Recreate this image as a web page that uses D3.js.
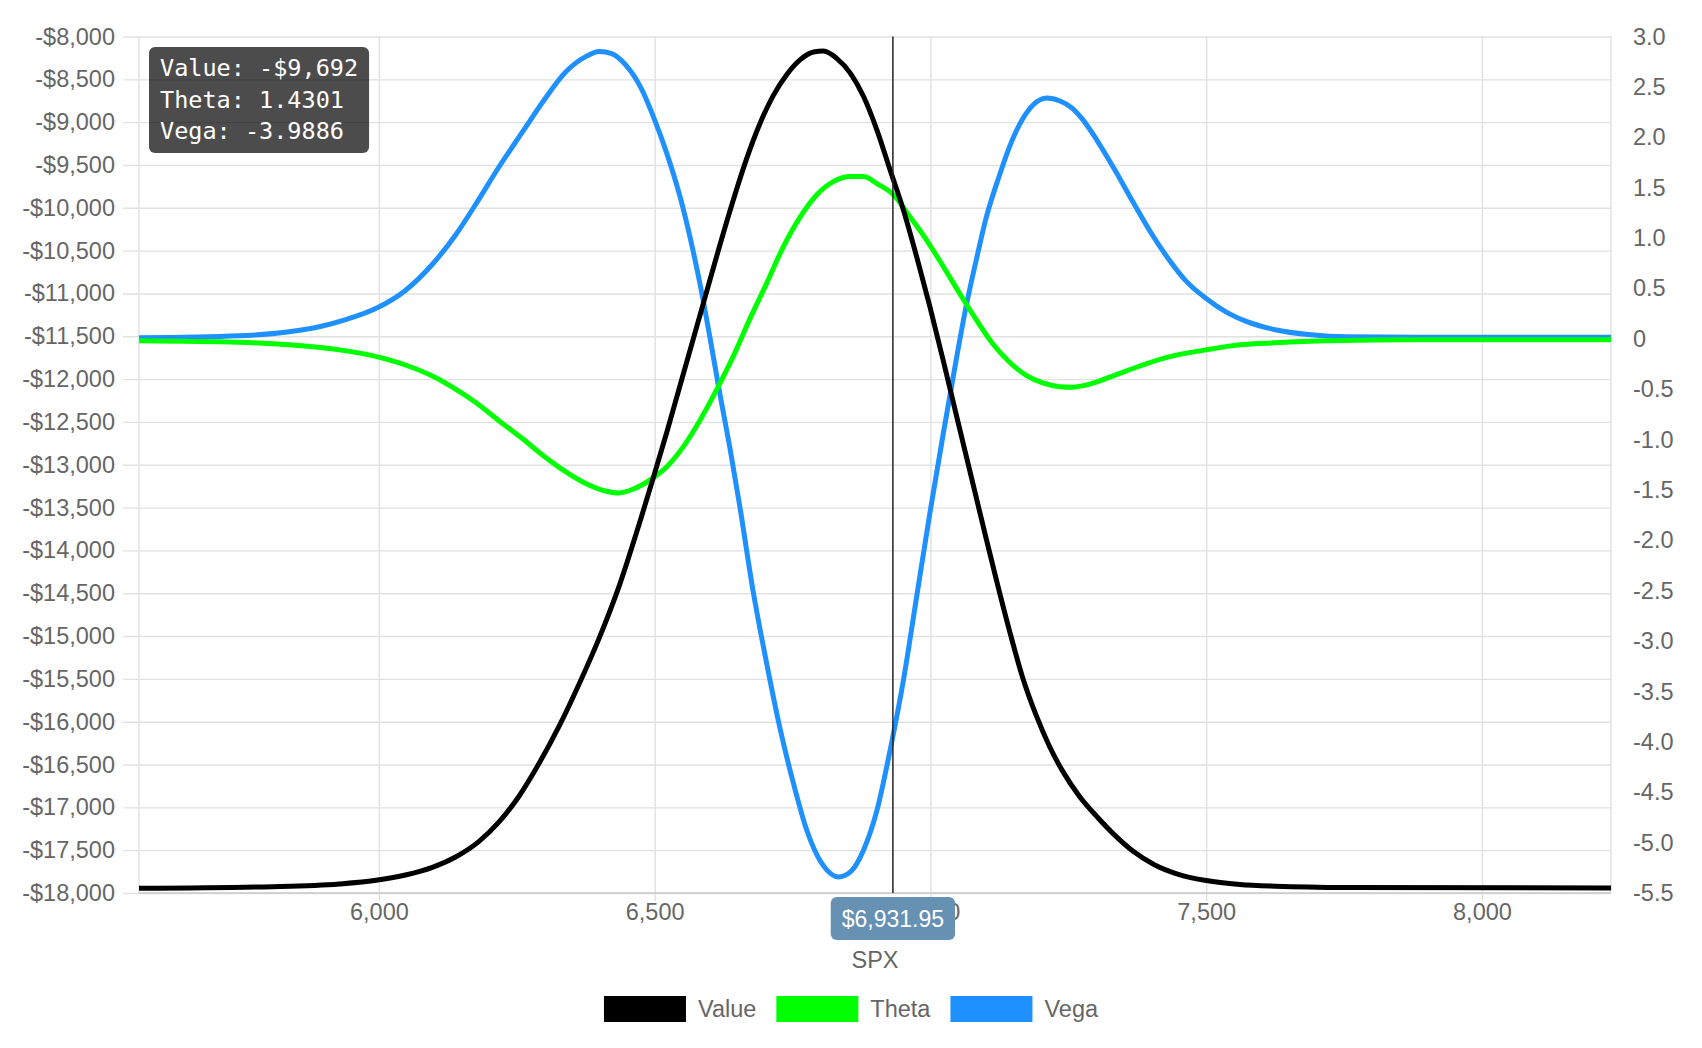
<!DOCTYPE html>
<html>
<head>
<meta charset="utf-8">
<script src="https://cdn.jsdelivr.net/npm/d3@7"></script>
<style>
  body { margin: 0; background: #fff; }
  svg text { font-family: "Liberation Sans", Arial, Helvetica, sans-serif; }
</style>
</head>
<body>
<svg id="chart" width="1702" height="1048"></svg>
<script>
// ---- data ----
var xTicks = [6000, 6500, 7000, 7500, 8000];
var leftTicks = [-18000, -17500, -17000, -16500, -16000, -15500, -15000, -14500, -14000, -13500,
                 -13000, -12500, -12000, -11500, -11000, -10500, -10000, -9500, -9000, -8500, -8000];
var rightTicks = [3.0, 2.5, 2.0, 1.5, 1.0, 0.5, 0, -0.5, -1.0, -1.5, -2.0, -2.5, -3.0, -3.5, -4.0, -4.5, -5.0, -5.5];
var rightTickLabels = ["3.0", "2.5", "2.0", "1.5", "1.0", "0.5", "0", "-0.5", "-1.0", "-1.5", "-2.0",
                       "-2.5", "-3.0", "-3.5", "-4.0", "-4.5", "-5.0", "-5.5"];

var valueSpx = [5565, 5807, 5928, 5998, 6048, 6097, 6139, 6181, 6217, 6254, 6291, 6327, 6363, 6399,
                6437, 6474, 6498, 6522, 6546, 6570, 6594, 6618, 6642, 6666, 6690, 6715, 6740, 6764,
                6788, 6806, 6830, 6855, 6879, 6903, 6927, 6951, 6975, 6999, 7023, 7047, 7071, 7095,
                7119, 7143, 7167, 7192, 7216, 7240, 7270, 7302, 7335, 7367, 7406, 7451, 7500, 7561,
                7625, 7755, 8234];
var valueData = [-17945, -17926, -17895, -17849, -17790, -17700, -17580, -17400, -17175, -16870, -16480,
                 -16050, -15560, -15030, -14390, -13650, -13140, -12620, -12075, -11530, -10985, -10440,
                 -9920, -9440, -9030, -8690, -8440, -8270, -8180, -8170, -8255, -8430, -8703, -9092,
                 -9560, -10026, -10571, -11155, -11777, -12420, -13060, -13700, -14330, -14930, -15480,
                 -15930, -16290, -16580, -16870, -17110, -17330, -17510, -17670, -17785, -17855, -17900,
                 -17920, -17935, -17942];

var thetaSpx = [5565, 5746, 5837, 5928, 5998, 6048, 6097, 6139, 6175, 6217, 6260, 6297, 6339, 6375,
                6411, 6435, 6462, 6492, 6522, 6552, 6582, 6612, 6642, 6672, 6703, 6733, 6764, 6794,
                6824, 6855, 6879, 6903, 6933, 6963, 6993, 7023, 7053, 7083, 7113, 7143, 7173, 7205,
                7235, 7257, 7289, 7335, 7380, 7432, 7500, 7561, 7625, 7722, 7884, 8234];
var thetaData = [-0.02, -0.035, -0.06, -0.11, -0.18, -0.26, -0.37, -0.50, -0.63, -0.81, -0.99, -1.155,
                 -1.32, -1.435, -1.51, -1.53, -1.49, -1.40, -1.27, -1.07, -0.81, -0.51, -0.18, 0.19,
                 0.55, 0.91, 1.21, 1.43, 1.56, 1.61, 1.61, 1.54, 1.43, 1.21, 0.98, 0.72, 0.45, 0.19,
                 -0.05, -0.23, -0.36, -0.44, -0.475, -0.48, -0.45, -0.36, -0.27, -0.18, -0.11, -0.06,
                 -0.04, -0.02, -0.01, -0.01];

var vegaSpx = [5565, 5746, 5837, 5892, 5940, 5998, 6048, 6097, 6139, 6175, 6217, 6260, 6297, 6339,
               6375, 6400, 6422, 6447, 6477, 6498, 6522, 6546, 6564, 6582, 6600, 6618, 6636, 6654,
               6678, 6703, 6727, 6752, 6776, 6800, 6812, 6833, 6855, 6879, 6903, 6927, 6951, 6975,
               6999, 7023, 7047, 7065, 7083, 7101, 7125, 7143, 7161, 7186, 7211, 7235, 7257, 7277,
               7302, 7335, 7367, 7399, 7432, 7464, 7500, 7535, 7574, 7625, 7690, 7755, 7884, 8234];
var vegaData = [0.01, 0.03, 0.07, 0.12, 0.19, 0.31, 0.48, 0.74, 1.03, 1.33, 1.70, 2.05, 2.35, 2.65,
                2.80, 2.85, 2.83, 2.72, 2.47, 2.20, 1.84, 1.41, 1.01, 0.55, 0.02, -0.54, -1.07, -1.65,
                -2.49, -3.22, -3.86, -4.42, -4.88, -5.18, -5.27, -5.34, -5.29, -5.07, -4.68, -4.08,
                -3.39, -2.56, -1.73, -0.95, -0.20, 0.33, 0.78, 1.20, 1.62, 1.90, 2.12, 2.32, 2.39,
                2.36, 2.29, 2.17, 1.97, 1.67, 1.36, 1.06, 0.79, 0.57, 0.40, 0.27, 0.17, 0.09, 0.04,
                0.02, 0.015, 0.015];

var seriesNames = ["Value", "Theta", "Vega"];
var seriesColors = ["#000000", "#00ff00", "#1e90ff"];

var cursorSpx = 6931.95;
var tipLines = ["Value: -$9,692", "Theta: 1.4301", "Vega: -3.9886"];

// ---- layout ----
var svg = d3.select("#chart");
var plotLeft = 139, plotRight = 1611, plotTop = 36.5, plotBottom = 893;
var tickFont = "23.5px";

var x = d3.scaleLinear().domain([5565, 8234]).range([plotLeft, plotRight]);
var yLeft = d3.scaleLinear().domain([-18000, -8000]).range([plotBottom, plotTop]);
var yRight = d3.scaleLinear().domain([-5.5, 3.0]).range([plotBottom, plotTop]);

function money(d) {
  return (d < 0 ? "-" : "") + "$" + d3.format(",")(Math.abs(d));
}

// horizontal grid + left labels
var gLeft = svg.append("g").attr("transform", "translate(123,0)")
  .call(d3.axisLeft(yLeft).tickValues(leftTicks).tickFormat(money)
    .tickSizeInner(-(plotRight - 123)).tickSizeOuter(0).tickPadding(8));
gLeft.select(".domain").remove();
gLeft.selectAll(".tick line").attr("stroke", "#e1e1e1").attr("stroke-width", 1.4);
gLeft.selectAll(".tick text").attr("fill", "#666").style("font-size", tickFont);

// vertical grid + bottom labels
var gBottom = svg.append("g").attr("transform", "translate(0," + (plotBottom + 8) + ")")
  .call(d3.axisBottom(x).tickValues(xTicks).tickFormat(d3.format(","))
    .tickSizeInner(-(plotBottom + 8 - plotTop)).tickSizeOuter(0).tickPadding(2));
gBottom.select(".domain").remove();
gBottom.selectAll(".tick line").attr("stroke", "#e1e1e1").attr("stroke-width", 1.4);
gBottom.selectAll(".tick text").attr("fill", "#666").style("font-size", tickFont);

// plot borders
svg.append("line").attr("x1", plotLeft).attr("x2", plotLeft).attr("y1", plotTop).attr("y2", plotBottom)
  .attr("stroke", "#e1e1e1").attr("stroke-width", 1.4);
svg.append("line").attr("x1", plotRight).attr("x2", plotRight).attr("y1", plotTop).attr("y2", plotBottom)
  .attr("stroke", "#e1e1e1").attr("stroke-width", 1.4);
svg.append("line").attr("x1", plotLeft).attr("x2", plotRight).attr("y1", plotBottom).attr("y2", plotBottom)
  .attr("stroke", "#c8c8c8").attr("stroke-width", 1.5);

// right labels
var gRight = svg.append("g").attr("transform", "translate(" + (plotRight + 22) + ",0)")
  .call(d3.axisRight(yRight).tickValues(rightTicks)
    .tickFormat(function (d, i) { return rightTickLabels[i]; })
    .tickSize(0).tickPadding(0));
gRight.select(".domain").remove();
gRight.selectAll(".tick text").attr("fill", "#666").style("font-size", tickFont);

// axis title
svg.append("text").attr("x", (plotLeft + plotRight) / 2).attr("y", 968)
  .attr("text-anchor", "middle").attr("fill", "#666").style("font-size", "23.5px").text("SPX");

// ---- lines (Vega bottom, Value on top) ----
var series = [
  { xs: valueSpx, ys: valueData, scale: yLeft, color: seriesColors[0] },
  { xs: thetaSpx, ys: thetaData, scale: yRight, color: seriesColors[1] },
  { xs: vegaSpx, ys: vegaData, scale: yRight, color: seriesColors[2] }
];

var plot = svg.append("g");
series.slice().reverse().forEach(function (s) {
  var pts = s.xs.map(function (v, i) { return [v, s.ys[i]]; });
  var line = d3.line()
    .x(function (d) { return x(d[0]); })
    .y(function (d) { return s.scale(d[1]); })
    .curve(d3.curveMonotoneX);
  plot.append("path").datum(pts)
    .attr("d", line)
    .attr("fill", "none")
    .attr("stroke", s.color)
    .attr("stroke-width", 5)
    .attr("stroke-linejoin", "round");
});

// ---- crosshair ----
var cx = x(cursorSpx);
svg.append("line").attr("x1", cx).attr("x2", cx).attr("y1", plotTop).attr("y2", plotBottom)
  .attr("stroke", "#222").attr("stroke-width", 1.5);

var badge = svg.append("g");
var badgeText = badge.append("text").attr("x", cx).attr("y", 919)
  .attr("text-anchor", "middle").attr("dominant-baseline", "central")
  .attr("fill", "#fff").style("font-size", "23px")
  .text("$" + d3.format(",.2f")(cursorSpx));
var bw = badgeText.node().getComputedTextLength() + 22;
badge.insert("rect", "text")
  .attr("x", cx - bw / 2).attr("y", 897).attr("width", bw).attr("height", 43)
  .attr("rx", 6).attr("fill", "#6691b3");

// ---- tooltip ----
var tip = svg.append("g");
var tipRect = tip.append("rect").attr("x", 149).attr("y", 47).attr("rx", 6)
  .attr("fill", "rgba(0,0,0,0.7)");
var maxW = 0;
tipLines.forEach(function (t, i) {
  var tx = tip.append("text").attr("x", 160).attr("y", 76 + i * 31.5)
    .attr("fill", "#fff")
    .style("font-family", "'DejaVu Sans Mono', 'Liberation Mono', monospace")
    .style("font-size", "23.5px")
    .text(t);
  maxW = Math.max(maxW, tx.node().getComputedTextLength());
});
tipRect.attr("width", maxW + 22).attr("height", 106);

// ---- legend (centred on the canvas, like the original) ----
var legend = svg.append("g");
var boxW = 82, boxH = 26, legY = 996;
var items = [];
seriesNames.forEach(function (name, i) {
  var g = legend.append("g");
  g.append("rect").attr("x", 0).attr("y", legY).attr("width", boxW).attr("height", boxH)
    .attr("fill", seriesColors[i]);
  var t = g.append("text").attr("x", boxW + 12).attr("y", legY + boxH / 2)
    .attr("dominant-baseline", "central").attr("fill", "#666")
    .style("font-size", "23.5px").text(name);
  var w = boxW + 12 + t.node().getComputedTextLength();
  items.push({ g: g, w: w });
});
var gap = 20;
var total = d3.sum(items, function (d) { return d.w; }) + gap * (items.length - 1);
var cursor = 851 - total / 2;
items.forEach(function (it) {
  it.g.attr("transform", "translate(" + cursor + ",0)");
  cursor += it.w + gap;
});
</script>
</body>
</html>
